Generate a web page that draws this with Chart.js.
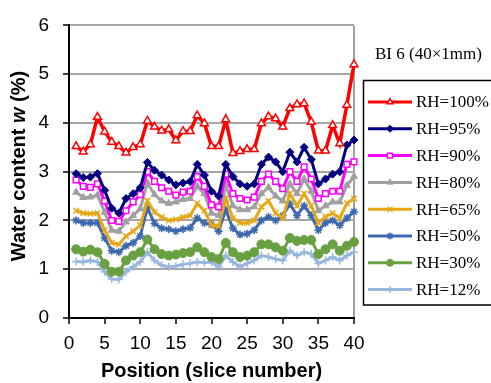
<!DOCTYPE html>
<html lang="en">
  <head>
    <meta charset="UTF-8" />
    <title>Water content by slice</title>
    <script src="https://cdn.jsdelivr.net/npm/chart.js"></script>
    <style>
      body { margin: 0; background: #fff; }
      #wrap { width: 491px; height: 383px; }
    </style>
  </head>
  <body>
    <div id="wrap"><canvas id="myChart" width="491" height="383"></canvas></div>

    <script>
      // slice positions
      var positions = [1,2,3,4,5,6,7,8,9,10,11,12,13,14,15,16,17,18,19,20,
                       21,22,23,24,25,26,27,28,29,30,31,32,33,34,35,36,37,38,39,40];

      var xTicks = [0, 5, 10, 15, 20, 25, 30, 35, 40];
      var yTicks = [0, 1, 2, 3, 4, 5, 6];

      var seriesNames = ["RH=100%", "RH=95%", "RH=90%", "RH=80%", "RH=65%", "RH=50%", "RH=30%", "RH=12%"];

      var rh100 = [3.52,3.41,3.56,4.12,3.82,3.61,3.52,3.39,3.50,3.56,4.04,3.92,3.84,3.87,3.64,3.83,3.83,4.15,3.99,3.52,
                   3.52,4.07,3.38,3.42,3.46,3.46,3.99,4.13,4.09,3.92,4.30,4.38,4.40,4.02,3.43,3.43,3.95,3.58,4.37,5.20];
      var rh95 = [2.96,2.88,2.89,2.96,2.62,2.25,2.15,2.45,2.55,2.67,3.19,3.03,2.93,2.83,2.73,2.77,2.80,3.15,2.93,2.60,
                  2.50,3.15,2.90,2.75,2.70,2.75,3.15,3.30,3.20,3.00,3.40,3.20,3.50,3.25,2.75,2.85,2.95,3.00,3.55,3.65];
      var rh90 = [2.83,2.70,2.68,2.75,2.40,2.00,1.98,2.20,2.38,2.53,3.00,2.80,2.67,2.60,2.52,2.58,2.60,2.90,2.70,2.32,
                  2.28,2.95,2.55,2.45,2.42,2.48,2.80,2.95,2.80,2.65,3.00,2.80,3.10,2.85,2.45,2.55,2.60,2.60,3.15,3.20];
      var rh80 = [2.58,2.47,2.48,2.52,2.17,1.80,1.78,1.97,2.10,2.24,2.77,2.53,2.40,2.35,2.38,2.43,2.45,2.70,2.55,2.15,
                  2.10,2.72,2.30,2.22,2.22,2.28,2.55,2.68,2.50,2.40,2.75,2.55,2.85,2.60,2.20,2.30,2.38,2.38,2.72,2.90];
      var rh65 = [2.20,2.15,2.14,2.15,1.80,1.54,1.51,1.68,1.78,1.90,2.40,2.17,2.07,2.00,2.02,2.07,2.10,2.35,2.20,1.90,
                  1.88,2.45,2.05,1.95,1.95,2.00,2.28,2.40,2.15,2.05,2.55,2.30,2.55,2.30,1.95,2.08,2.15,2.05,2.35,2.45];
      var rh50 = [2.00,1.95,1.95,1.95,1.64,1.38,1.35,1.48,1.54,1.68,2.26,1.94,1.84,1.82,1.78,1.82,1.85,2.05,1.95,1.92,
                  1.78,2.22,1.84,1.71,1.73,1.80,2.00,2.07,2.00,2.10,2.34,2.10,2.30,2.10,1.80,1.95,2.00,1.90,2.05,2.18];
      var rh30 = [1.41,1.36,1.40,1.35,1.11,0.95,0.95,1.18,1.28,1.35,1.61,1.41,1.31,1.28,1.30,1.33,1.35,1.45,1.35,1.25,
                  1.21,1.54,1.35,1.25,1.28,1.35,1.51,1.51,1.45,1.38,1.64,1.58,1.60,1.60,1.31,1.41,1.51,1.38,1.48,1.56];
      var rh12 = [1.16,1.15,1.18,1.15,0.95,0.80,0.79,0.95,1.05,1.15,1.35,1.18,1.08,1.05,1.06,1.10,1.12,1.15,1.14,1.15,
                  1.05,1.28,1.15,1.05,1.12,1.18,1.28,1.25,1.21,1.18,1.38,1.28,1.35,1.31,1.12,1.18,1.25,1.18,1.28,1.35];

      var allValues = [rh100, rh95, rh90, rh80, rh65, rh50, rh30, rh12];

      var styles = [
        { color: "#ff0000", fill: "#ffffff", point: "triangle", radius: 4.5, bw: 1.5, lw: 3.5 },
        { color: "#000080", fill: "#000080", point: "rectRot", radius: 4, bw: 1, lw: 3 },
        { color: "#ff00ff", fill: "#ffffff", point: "rect", radius: 4, bw: 1.5, lw: 3 },
        { color: "#a0a0a0", fill: "#a0a0a0", point: "triangle", radius: 4, bw: 1, lw: 3 },
        { color: "#e6a817", fill: "#e6a817", point: "crossRot", radius: 4, bw: 1.5, lw: 3 },
        { color: "#3d68b0", fill: "#3d68b0", point: "star", radius: 4, bw: 1.5, lw: 3 },
        { color: "#69a042", fill: "#69a042", point: "circle", radius: 4.5, bw: 1, lw: 3 },
        { color: "#98b7dd", fill: "#98b7dd", point: "cross", radius: 4, bw: 1.5, lw: 3 },
      ];

      var datasets = allValues.map(function (vals, i) {
        var s = styles[i];
        return {
          label: seriesNames[i],
          data: vals.map(function (v, j) { return { x: positions[j], y: v }; }),
          borderColor: s.color,
          backgroundColor: s.fill,
          borderWidth: s.lw,
          pointStyle: s.point,
          pointRadius: s.radius,
          pointBorderWidth: s.bw,
          pointBorderColor: s.color,
          pointBackgroundColor: s.fill,
          tension: 0,
          clip: false,
        };
      });

      // y title with italic "w", drawn by hand
      var yTitlePlugin = {
        id: "yTitle",
        afterDraw: function (chart) {
          var ctx = chart.ctx;
          var parts = [
            { t: "Water content ", f: "bold 20px Arial, 'Liberation Sans', sans-serif" },
            { t: "w", f: "italic bold 20px Arial, 'Liberation Sans', sans-serif" },
            { t: " (%)", f: "bold 20px Arial, 'Liberation Sans', sans-serif" },
          ];
          ctx.save();
          var total = 0;
          parts.forEach(function (p) { ctx.font = p.f; p.w = ctx.measureText(p.t).width; total += p.w; });
          ctx.translate(19, 166);
          ctx.rotate(-Math.PI / 2);
          ctx.fillStyle = "#000";
          ctx.textBaseline = "middle";
          ctx.textAlign = "left";
          var x = -total / 2;
          parts.forEach(function (p) { ctx.font = p.f; ctx.fillText(p.t, x, 0); x += p.w; });
          ctx.restore();
        },
      };

      // boxed legend on the right, with the specimen label above it
      var legendPlugin = {
        id: "boxLegend",
        afterDraw: function (chart) {
          var ctx = chart.ctx;
          ctx.save();
          ctx.fillStyle = "#000";
          ctx.font = "17px 'Liberation Serif', 'Times New Roman', serif";
          ctx.textBaseline = "middle";
          ctx.textAlign = "left";
          ctx.fillText("BI 6 (40×1mm)", 375, 55);

          ctx.strokeStyle = "#000";
          ctx.lineWidth = 1.5;
          ctx.strokeRect(363.5, 80.5, 130, 224.5);

          chart.data.datasets.forEach(function (ds, i) {
            var y = 102 + i * 26.8;
            ctx.strokeStyle = ds.borderColor;
            ctx.lineWidth = 3;
            ctx.beginPath();
            ctx.moveTo(368, y);
            ctx.lineTo(412, y);
            ctx.stroke();
            ctx.fillStyle = ds.pointBackgroundColor;
            ctx.strokeStyle = ds.pointBorderColor;
            ctx.lineWidth = ds.pointBorderWidth;
            Chart.helpers.drawPoint(ctx, { pointStyle: ds.pointStyle, radius: 3.5, rotation: 0, borderWidth: ds.pointBorderWidth }, 390, y);
            ctx.fillStyle = "#000";
            ctx.font = "17px 'Liberation Serif', 'Times New Roman', serif";
            ctx.fillText(ds.label, 416, y + 1);
          });
          ctx.restore();
        },
      };

      var ctx = document.getElementById("myChart").getContext("2d");
      window.myChart = new Chart(ctx, {
        type: "line",
        data: { datasets: datasets },
        options: {
          responsive: false,
          animation: false,
          layout: { padding: { top: 15, right: 137, left: 0, bottom: 0 } },
          plugins: { legend: { display: false }, tooltip: { enabled: false } },
          scales: {
            x: {
              type: "linear",
              min: 0,
              max: 40,
              afterBuildTicks: function (scale) {
                scale.ticks = xTicks.map(function (v) { return { value: v }; });
              },
              afterFit: function (scale) { scale.height = 65; },
              ticks: {
                color: "#000",
                font: { family: "Arial, 'Liberation Sans', sans-serif", size: 19 },
                padding: 8,
                maxRotation: 0,
              },
              grid: {
                color: function (c) { return c.tick && c.tick.value === 40 ? "#a0a0a0" : "rgba(0,0,0,0)"; },
                lineWidth: 2,
                tickColor: "#000",
                tickLength: 6,
                tickWidth: 1.5,
              },
              border: { color: "#000", width: 2 },
              title: {
                display: true,
                text: "Position (slice number)",
                color: "#000",
                font: { family: "Arial, 'Liberation Sans', sans-serif", size: 20, weight: "bold" },
                padding: { top: 0, bottom: 0 },
              },
            },
            y: {
              min: 0,
              max: 6,
              afterBuildTicks: function (scale) {
                scale.ticks = yTicks.map(function (v) { return { value: v }; });
              },
              afterFit: function (scale) { scale.width = 69; },
              ticks: {
                color: "#000",
                font: { family: "Arial, 'Liberation Sans', sans-serif", size: 19 },
                padding: 14,
              },
              grid: {
                color: function (c) { return c.tick && c.tick.value === 0 ? "rgba(0,0,0,0)" : "#a6a6a6"; },
                lineWidth: 2,
                tickColor: "#000",
                tickLength: 6,
                tickWidth: 1.5,
              },
              border: { color: "#000", width: 2 },
            },
          },
        },
        plugins: [yTitlePlugin, legendPlugin],
      });
    </script>
  </body>
</html>
